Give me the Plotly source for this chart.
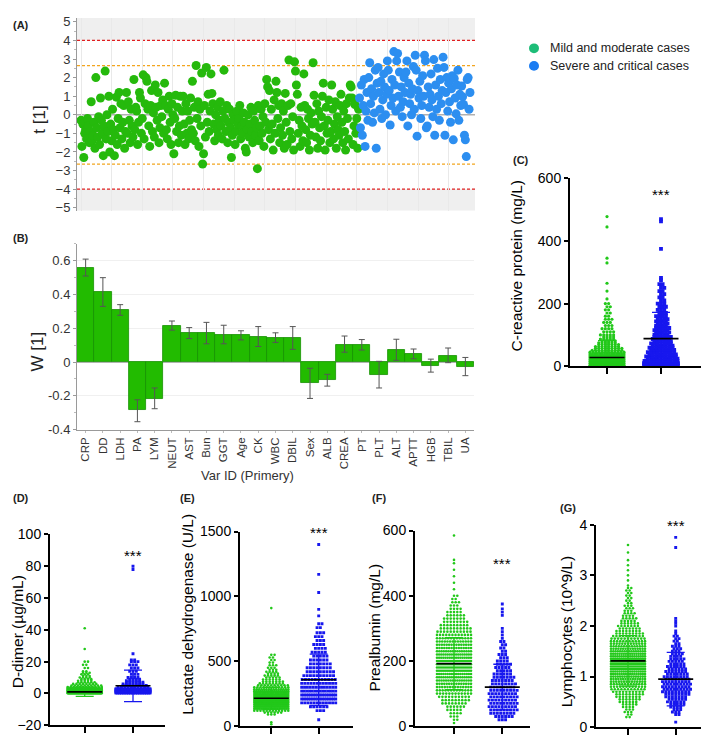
import plotly.graph_objects as go

W, H = 709, 736
FONT = "Liberation Sans, Arial, sans-serif"

# ---------------- Panel A: scores t[1] by observation ----------------
mild_t = [
    -0.3,-1.7,-0.5,-2.3,-1.0,-0.8,-1.3,-0.2,-0.6,-1.5,
    -0.9,0.7,-1.4,-1.1,-0.4,-1.8,2.0,-0.7,-1.2,-0.1,
    -1.6,0.9,-0.3,-1.0,-2.2,-0.6,2.35,-1.3,0.0,-0.9,
    1.0,-2.0,-0.5,-1.4,0.3,-0.8,-2.2,-1.1,0.95,-1.6,
    -0.2,1.2,-0.7,0.6,-1.3,-0.4,0.5,-1.8,-0.9,1.2,
    -1.0,0.7,-0.3,-1.5,0.3,-0.6,-1.2,1.9,-0.8,0.4,
    0.2,-1.6,-0.4,1.2,0.9,-1.0,-0.2,2.15,-1.3,0.6,
    2.0,1.8,0.3,-0.6,-1.7,0.5,1.3,-0.9,0.1,-1.2,
    1.6,0.4,-0.3,1.2,-1.5,-0.7,0.5,-0.1,0.8,-1.0,
    1.7,0.5,-0.8,-1.3,0.3,1.0,-0.4,-1.6,0.6,0.0,
    -2.1,-0.2,1.05,-0.9,0.4,-1.5,-0.6,1.0,-1.1,0.2,
    1.0,-0.5,-1.6,0.6,-1.0,0.2,-1.3,-0.3,0.9,-0.8,
    1.8,-1.0,0.4,-1.4,2.65,-0.2,0.7,-1.7,0.3,-0.6,
    2.25,-2.65,-2.1,0.5,-1.2,2.55,-0.4,1.1,-0.9,0.2,
    2.2,1.15,0.6,-0.5,-1.4,0.0,-0.8,0.4,-1.1,-0.3,
    0.7,-0.6,-1.3,0.2,2.4,-0.2,-0.9,0.5,-1.5,-0.4,
    0.3,-0.7,-2.3,-1.1,0.0,-0.3,-1.6,-0.9,0.2,-0.5,
    -0.2,0.5,-1.3,-0.6,-1.0,0.1,-0.4,-1.8,-2.0,-0.8,
    0.0,-1.2,-0.5,0.4,-0.9,-1.5,0.2,-0.3,-1.1,-0.7,
    -2.9,0.5,-1.4,-0.6,0.3,-1.0,-0.1,-1.7,0.6,-0.4,
    1.9,1.5,-0.8,1.3,-1.3,0.3,-0.5,-1.9,0.8,-1.0,
    1.8,1.2,-0.2,0.5,-1.5,-0.7,0.6,-1.1,0.2,-1.8,
    1.15,-0.4,-1.6,0.5,2.95,-0.9,0.6,-1.3,-0.1,-1.9,
    2.85,2.35,1.6,1.1,-1.0,-0.3,-1.7,0.4,-0.6,-1.4,
    2.2,0.5,-0.8,-1.5,0.3,-0.2,-1.9,-1.1,0.1,-0.5,
    2.8,1.05,-0.4,-1.2,0.6,-1.8,0.2,-0.7,-1.4,-0.1,
    1.0,1.7,-0.6,-1.9,0.4,-1.0,-0.3,0.8,-1.5,-0.9,
    1.6,0.3,-1.3,-0.5,0.7,-1.8,-0.1,-0.8,-1.1,0.5,
    1.1,-0.4,-1.5,0.2,-0.9,-1.9,0.6,-0.2,-1.3,0.9,
    1.6,1.5,0.9,-1.6,-0.6,0.55,-1.0,-0.2,-1.8,0.3,
]
severe_t = [
    0.9,-0.7,1.6,-1.1,0.5,1.9,-1.7,0.2,1.2,-0.3,
    2.0,2.8,0.6,1.4,-0.4,1.0,0.1,2.4,-1.8,1.7,
    2.55,1.2,0.3,1.8,-0.2,0.8,2.2,1.5,0.0,1.1,
    2.9,2.4,1.3,-0.55,0.5,1.9,0.9,3.4,1.6,0.2,
    2.9,3.3,1.0,2.3,0.4,1.5,-0.1,0.7,2.0,1.2,
    2.3,2.9,-0.6,1.7,0.6,1.1,0.0,1.4,2.6,0.3,
    3.2,2.4,-1.15,1.3,0.9,1.8,-0.2,0.5,2.1,1.0,
    3.2,2.9,-0.7,-0.6,1.5,0.4,1.1,2.2,0.8,-0.1,
    2.97,-1.1,1.6,0.3,2.5,1.0,-0.3,1.9,0.6,1.3,
    3.1,2.55,-1.1,1.2,2.0,0.2,1.7,0.7,-0.4,1.4,
    2.1,-1.35,1.95,0.9,0.05,1.6,2.4,-0.3,1.1,0.5,
    1.55,0.97,0.55,-1.1,-1.35,-2.25,1.9,2.0,0.3,1.2,
]
t_limit_99 = 4.0
t_limit_95 = 2.65

# ---------------- Panel B: loadings W[1] ----------------
var_ids = ["CRP","DD","LDH","PA","LYM","NEUT","AST","Bun","GGT","Age","CK","WBC",
           "DBIL","Sex","ALB","CREA","PT","PLT","ALT","APTT","HGB","TBIL","UA"]
w_vals = [0.56,0.416,0.308,-0.285,-0.216,0.214,0.17,0.17,0.162,0.158,0.15,0.143,
          0.14,-0.127,-0.108,0.104,0.10,-0.075,0.071,0.046,-0.021,0.037,-0.027]
w_err_up = [0.05,0.084,0.032,0.061,0.062,0.029,0.034,0.065,0.056,0.027,0.06,0.03,
            0.07,0.09,0.035,0.05,0.033,0.079,0.064,0.031,0.038,0.046,0.054]
w_err_down = [0.05,0.086,0.031,0.069,0.061,0.025,0.031,0.062,0.054,0.027,0.058,0.027,
              0.065,0.089,0.035,0.046,0.029,0.079,0.061,0.027,0.039,0.041,0.054]

# ---------------- Panels C-G: value bins and counts ----------------
crp_mild_vals = [3,9,15,21,27,33,39,45,51,57,63,69,75,81,87,93,100,110,120,130,140,150,160,170,180,190,200,215,240,265,330,345,445,478]
crp_mild_counts = [60,55,45,35,25,20,15,12,10,9,8,7,6,5,5,4,5,4,4,3,3,3,2,2,2,2,2,1,1,1,1,1,1,1]
crp_severe_vals = [3,10,17,24,31,38,45,52,59,66,73,80,87,94,101,108,115,122,129,136,143,150,160,170,180,190,200,210,220,230,240,250,262,275,282,375,463,470]
crp_severe_counts = [14,12,11,10,10,9,9,8,8,7,7,6,6,6,5,5,5,5,4,4,4,4,4,3,3,3,3,2,2,2,2,2,2,1,1,1,1,1]

dd_mild_vals = [0.2,0.6,1.0,1.5,2.0,2.5,3,3.5,4,5,6,7,8,9,10,11,12,13,14,16,18,20,28,41]
dd_mild_counts = [60,80,70,50,35,25,18,14,12,10,8,6,5,4,4,3,3,3,2,2,2,2,1,1]
dd_severe_vals = [0.3,0.8,1.3,1.8,2.5,3,4,5,6,7,8,9,10,12,14,16,18,20,21,25,78,80]
dd_severe_counts = [20,25,22,18,15,12,10,8,7,6,5,4,4,3,3,3,3,3,2,1,1,1]

ldh_mild_vals = [15,30,90,105,120,135,150,165,180,195,210,225,240,255,270,285,300,315,330,345,360,375,390,405,420,435,450,470,490,510,530,550,910]
ldh_mild_counts = [1,1,3,6,12,20,28,34,36,36,34,30,26,22,18,15,12,10,8,7,6,5,5,4,4,3,3,3,2,2,2,2,1]
ldh_severe_vals = [50,120,150,180,210,240,270,300,330,360,390,420,450,480,510,540,570,600,630,660,690,720,760,790,850,900,1030,1170,1400]
ldh_severe_counts = [1,3,6,12,16,16,14,13,12,11,10,9,8,7,6,5,5,4,4,3,3,3,2,2,1,1,1,1,1]

pa_mild_vals = [10,20,30,40,50,60,70,80,90,100,110,120,130,140,150,160,170,180,190,200,
                210,220,230,240,250,260,270,280,290,300,310,320,330,340,350,360,370,380,390,400,
                420,440,460,480,500,510,585]
pa_mild_counts = [1,2,3,4,5,6,8,9,10,12,13,14,15,16,17,17,18,18,18,18,
                  17,17,16,15,15,14,13,12,11,10,9,8,7,6,5,4,3,3,2,2,
                  1,1,1,1,1,1,1]
pa_severe_vals = [20,30,40,50,60,70,80,90,100,110,120,130,140,150,160,170,180,190,200,210,
                  220,230,240,250,260,270,280,290,300,340,350,360,375]
pa_severe_counts = [3,6,8,9,9,9,9,9,9,9,8,8,7,7,6,5,5,5,4,3,
                    3,2,2,2,2,1,1,1,1,1,1,1,1]

lym_mild_vals = [0.20,0.25,0.30,0.35,0.40,0.45,0.50,0.55,0.60,0.65,0.70,0.75,0.80,0.85,0.90,0.95,
                 1.00,1.05,1.10,1.15,1.20,1.25,1.30,1.35,1.40,1.45,1.50,1.55,1.60,1.65,1.70,1.75,
                 1.80,1.85,1.90,1.95,2.00,2.05,2.10,2.15,2.20,2.25,2.30,2.35,2.40,2.45,2.50,2.55,
                 2.60,2.65,2.70,2.75,2.80,2.90,3.00,3.10,3.20,3.30,3.45,3.60]
lym_mild_counts = [2,2,3,3,4,5,6,7,8,9,10,11,12,13,14,15,
                   16,17,17,18,18,18,18,18,17,17,16,15,14,13,12,11,
                   10,9,8,7,7,6,5,5,4,4,3,3,3,2,2,2,
                   2,2,2,2,1,1,1,1,1,1,1,1]
lym_severe_vals = [0.10,0.25,0.30,0.35,0.40,0.45,0.50,0.55,0.60,0.65,0.70,0.75,0.80,0.85,0.90,0.95,
                   1.00,1.05,1.10,1.15,1.20,1.25,1.30,1.35,1.40,1.45,1.50,1.55,1.60,1.65,1.70,1.75,
                   1.80,1.85,1.90,2.00,2.05,2.10,2.15,3.55,3.75]
lym_severe_counts = [1,2,3,3,4,5,6,6,7,8,9,9,9,9,9,8,
                     8,7,7,6,6,5,5,5,4,4,3,3,3,2,2,2,
                     2,1,1,1,1,1,1,1,1]

# mean and SD: [mild, severe]
crp_mean = [28, 88];   crp_sd = [54, 84]
dd_mean = [1.0, 4.8];  dd_sd = [2.9, 9.9]
ldh_mean = [215, 358]; ldh_sd = [85, 197]
pa_mean = [192, 120];  pa_sd = [80, 70]
lym_mean = [1.31, 0.95]; lym_sd = [0.5, 0.53]

GREEN_A = "#25b90c"
BLUE_A = "#2c8ef0"
GREEN_P = "#22c81a"
BLUE_P = "#1717ee"


def xd(a, b):
    return [a / W, b / W]


def yd(top, bottom):
    return [1 - bottom / H, 1 - top / H]


def vtext(text, x, y, size, color="black"):
    return dict(text=text, x=x / W, y=1 - y / H, xref="paper", yref="paper",
                xanchor="center", yanchor="middle", textangle=-90, showarrow=False,
                font=dict(size=size, color=color))


fig = go.Figure()
layout = dict(width=W, height=H, margin=dict(l=0, r=0, t=0, b=0), autosize=False,
              showlegend=False, paper_bgcolor="white", plot_bgcolor="white",
              font=dict(family=FONT, color="#222"), bargap=0)
shapes = []
annotations = []

# ---------- Panel A ----------
n_mild = len(mild_t)
n_sev = len(severe_t)
fig.add_trace(go.Scatter(x=list(range(n_mild)), y=mild_t, mode="markers",
                         marker=dict(size=9, color=GREEN_A), xaxis="x", yaxis="y"))
fig.add_trace(go.Scatter(x=list(range(n_mild, n_mild + n_sev)), y=severe_t, mode="markers",
                         marker=dict(size=9, color=BLUE_A), xaxis="x", yaxis="y"))
ntot = n_mild + n_sev
ppx = (462 - 73) / (ntot - 1)
a_xr = [-4 / ppx, ntot - 1 + 5 / ppx]
layout["xaxis"] = dict(domain=xd(69, 467), range=a_xr, anchor="y", showticklabels=False,
                       showgrid=True, gridcolor="#e9e9e9", dtick=33, zeroline=False,
                       showline=False, ticks="")
layout["yaxis"] = dict(domain=yd(2, 199), range=[-5.16, 5.21], anchor="x", dtick=1,
                       showgrid=False, zeroline=False, showline=True, linecolor="#9a9a9a",
                       linewidth=1, ticks="outside", ticklen=3, tickcolor="#9a9a9a",
                       tickfont=dict(size=13, color="#333"),
                       minor=dict(ticks="outside", ticklen=2, tickcolor="#bbb", dtick=0.5))
for y0, y1 in [(t_limit_99, 5.21), (-5.16, -t_limit_99)]:
    shapes.append(dict(type="rect", xref="x domain", yref="y", x0=0, x1=1, y0=y0, y1=y1,
                       fillcolor="#efefef", line=dict(width=0), layer="below"))
for yv, col in [(t_limit_99, "#e02020"), (-t_limit_99, "#e02020"),
                (t_limit_95, "#f2a51f"), (-t_limit_95, "#f2a51f")]:
    shapes.append(dict(type="line", xref="x domain", yref="y", x0=0, x1=1, y0=yv, y1=yv,
                       line=dict(color=col, width=1.2, dash="3px,2px"), layer="below"))
shapes.append(dict(type="line", xref="x domain", yref="y", x0=0, x1=1, y0=0, y1=0,
                   line=dict(color="#b0b0b0", width=1.5), layer="below"))
annotations.append(vtext("t [1]", 32, 106, 17, "#222"))

# legend
for cy, col, label in [(33, "#1dbd78", "Mild and moderate cases"),
                       (51, "#1a7cf2", "Severe and critical cases")]:
    shapes.append(dict(type="circle", xref="paper", yref="paper",
                       x0=(526 - 5) / W, x1=(526 + 5) / W, y0=1 - (cy + 5) / H, y1=1 - (cy - 5) / H,
                       fillcolor=col, line=dict(width=0)))
    annotations.append(dict(text=label, x=540 / W, y=1 - cy / H, xref="paper", yref="paper",
                            xanchor="left", yanchor="middle", showarrow=False,
                            font=dict(size=12.5, color="#222")))

# ---------- Panel B ----------
fig.add_trace(go.Bar(x=var_ids, y=w_vals, xaxis="x2", yaxis="y2",
                     marker=dict(color="#22bb00", line=dict(color="#159000", width=0.8)),
                     error_y=dict(type="data", symmetric=False, array=w_err_up,
                                  arrayminus=w_err_down, color="#555", thickness=1, width=3)))
layout["xaxis2"] = dict(domain=xd(69, 466), anchor="y2", type="category",
                        range=[-0.5, len(var_ids) - 0.5], tickangle=-90,
                        tickfont=dict(size=11.5, color="#333"), showline=True,
                        linecolor="#9a9a9a", ticks="outside", ticklen=2, tickcolor="#bbb",
                        showgrid=False, zeroline=False)
layout["yaxis2"] = dict(domain=yd(233, 423), range=[-0.402, 0.70], anchor="x2",
                        tickvals=[-0.4, -0.2, 0, 0.2, 0.4, 0.6],
                        ticktext=["-0.4", "-0.2", "0", "0.2", "0.4", "0.6"],
                        showgrid=True, gridcolor="#f0f0f0", zeroline=True,
                        zerolinecolor="#b5b5b5", zerolinewidth=1,
                        showline=True, linecolor="#9a9a9a", ticks="outside", ticklen=3,
                        tickcolor="#9a9a9a", tickfont=dict(size=13, color="#333"),
                        minor=dict(ticks="outside", ticklen=2, tickcolor="#bbb", dtick=0.1))
annotations.append(vtext("W [1]", 30, 343, 17, "#222"))
annotations.append(dict(text="Var ID (Primery)", x=240 / W, y=1 - 470 / H, xref="paper",
                        yref="paper", xanchor="center", yanchor="middle", showarrow=False,
                        font=dict(size=13, color="#333")))


# ---------- Prism panels ----------
def swarm(vals, counts, center, gap, maxw):
    xs, ys = [], []
    for r, (v, n) in enumerate(zip(vals, counts)):
        g = gap if n <= 1 else min(gap, 2 * maxw / (n - 1))
        shift = (g / 2) if (r % 2 and n > 1 and (n - 1) * g / 2 + g / 2 <= maxw) else 0
        for k in range(n):
            xs.append(center + (k - (n - 1) / 2) * g + shift)
            ys.append(v)
    return xs, ys


def prism(n, xpx, ypx, yr, ytick, p1, p2, groups, means, sds, title, tpos, star_y,
          msize=(2.6, 2.9)):
    L, R = xpx
    s = p2 - p1
    xr = [-(p1 - L) / s, 1 + (R - p2) / s]
    xa, ya = f"x{n}", f"y{n}"
    cols = [GREEN_P, BLUE_P]
    syms = ["circle", "square"]
    for gi, (vals, counts) in enumerate(groups):
        xs, ys = swarm(vals, counts, gi, 3.3 / s, 17 / s)
        fig.add_trace(go.Scatter(x=xs, y=ys, mode="markers", xaxis=xa, yaxis=ya,
                                 marker=dict(size=msize[gi], color=cols[gi], symbol=syms[gi],
                                             line=dict(width=0))))
    for gi in range(2):
        m, sd = means[gi], sds[gi]
        cw = 9 / s
        fig.add_trace(go.Scatter(x=[gi, gi, None, gi - cw, gi + cw, None, gi - cw, gi + cw],
                                 y=[m - sd, m + sd, None, m - sd, m - sd, None, m + sd, m + sd],
                                 mode="lines", xaxis=xa, yaxis=ya,
                                 line=dict(color=cols[gi], width=1.3)))
        hw = 17.5 / s
        fig.add_trace(go.Scatter(x=[gi - hw, gi + hw], y=[m, m], mode="lines", xaxis=xa,
                                 yaxis=ya, line=dict(color="black", width=1.6)))
    layout[f"xaxis{n}"] = dict(domain=xd(L, R), range=xr, anchor=ya, showline=True,
                               linecolor="black", linewidth=2, ticks="outside", ticklen=6,
                               tickwidth=1.6, tickcolor="black", tickvals=[0, 1],
                               showticklabels=False, showgrid=False, zeroline=False)
    layout[f"yaxis{n}"] = dict(domain=yd(*ypx), range=yr, anchor=xa, showline=True,
                               linecolor="black", linewidth=2, ticks="outside", ticklen=4,
                               tickwidth=1.6, tickcolor="black", dtick=ytick,
                               tickfont=dict(size=14, color="black"),
                               showgrid=False, zeroline=False)
    annotations.append(dict(text="***", x=1, y=star_y, xref=xa, yref=ya, showarrow=False,
                            xanchor="center", yanchor="middle",
                            font=dict(size=15, color="black")))
    annotations.append(vtext(title, tpos[0], tpos[1], 15.5))


prism(3, (562, 695), (166, 358), [0, 600], 200, 599, 653,
      [(crp_mild_vals, crp_mild_counts), (crp_severe_vals, crp_severe_counts)],
      crp_mean, crp_sd, "C-reactive protein (mg/L)", (508, 256), 550, msize=(3.2, 3.8))
prism(4, (42, 157), (530, 725), [-20, 100], 20, 76.7, 125,
      [(dd_mild_vals, dd_mild_counts), (dd_severe_vals, dd_severe_counts)],
      dd_mean, dd_sd, "D-dimer (µg/mL)", (9, 630), 87)
prism(5, (232, 345), (527, 726), [0, 1500], 500, 263.3, 310.7,
      [(ldh_mild_vals, ldh_mild_counts), (ldh_severe_vals, ldh_severe_counts)],
      ldh_mean, ldh_sd, "Lactate dehydrogenase (U/L)", (180, 612), 1490)
prism(6, (407, 522), (526, 726), [0, 600], 200, 446, 494.3,
      [(pa_mild_vals, pa_mild_counts), (pa_severe_vals, pa_severe_counts)],
      pa_mean, pa_sd, "Prealbumin (mg/L)", (366, 625), 500)
prism(7, (588, 700), (520, 727), [0, 4], 1, 620, 667.7,
      [(lym_mild_vals, lym_mild_counts), (lym_severe_vals, lym_severe_counts)],
      lym_mean, lym_sd, "Lymphocytes (10^9/L)", (558, 630), 3.98)

# panel letters
for txt, x, y in [("(A)", 3, 9), ("(B)", 3, 227), ("(C)", 503, 147), ("(D)", 3, 493),
                  ("(E)", 170, 493), ("(F)", 362, 493), ("(G)", 550, 503)]:
    annotations.append(dict(text=f"<b>{txt}</b>", x=x / W, y=1 - y / H, xref="paper",
                            yref="paper", xanchor="left", yanchor="middle", showarrow=False,
                            font=dict(size=11, color="#222")))

layout["shapes"] = shapes
layout["annotations"] = annotations
fig.update_layout(**layout)
fig.write_html("out.html")
